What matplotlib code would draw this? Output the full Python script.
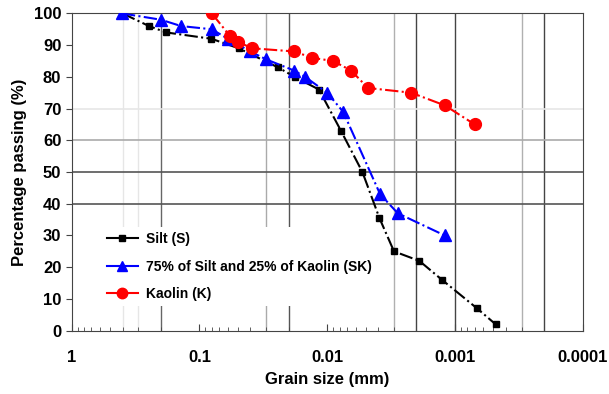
import matplotlib
matplotlib.use('Agg')
import matplotlib.pyplot as plt
from matplotlib.lines import Line2D

plt.rcParams['font.family'] = ['Liberation Sans', 'DejaVu Sans']
plt.rcParams['font.weight'] = 'bold'

# grain size (mm) and percentage passing
silt_d = [0.40, 0.248, 0.182, 0.0805, 0.0493, 0.0243, 0.018, 0.0116, 0.0078, 0.0053, 0.0039, 0.0030, 0.0019, 0.00126, 0.00067, 0.00048]
silt_p = [100, 96, 94, 92, 89, 83, 80, 76, 63, 50, 35.5, 25, 22, 16, 7, 2]

sk_d = [0.404, 0.2, 0.139, 0.08, 0.06, 0.04, 0.03, 0.0182, 0.0149, 0.01, 0.0075, 0.00385, 0.0028, 0.0012]
sk_p = [100, 98, 96, 95, 92, 88, 85.5, 82, 80, 75, 69, 43, 37, 30]

kaolin_d = [0.08, 0.058, 0.05, 0.0385, 0.0181, 0.0131, 0.009, 0.0065, 0.0048, 0.0022, 0.0012, 0.0007]
kaolin_p = [100, 93, 91, 89, 88, 86, 85, 82, 76.5, 75, 71, 65]

labels = ['Silt (S)', '75% of Silt and 25% of Kaolin (SK)', 'Kaolin (K)']
xticks = [1, 0.1, 0.01, 0.001, 0.0001]
xticklabels = ['1', '0.1', '0.01', '0.001', '0.0001']

# odd grid the original chart has
vgrid = [(0.4, '#e6e6e6'), (0.3, '#e6e6e6'), (0.2, '#666666'),
         (0.03, '#aaaaaa'), (0.02, '#555555'),
         (0.003, '#b0b0b0'), (0.002, '#444444'), (0.001, '#444444'),
         (0.0003, '#b0b0b0'), (0.0002, '#444444')]
hgrid = [(70, '#e6e6e6'), (60, '#aaaaaa'), (50, '#555555'), (40, '#555555')]

fig = plt.figure(figsize=(6.09, 3.94), dpi=100)
ax = fig.add_axes([0.1177, 0.1607, 0.8391, 0.8053])

for x, c in vgrid:
    ax.axvline(x, color=c, lw=1, zorder=0)
for y, c in hgrid:
    ax.axhline(y, color=c, lw=1.2, zorder=0)

ax.plot(silt_d, silt_p, color='black', ls='-.', lw=1.5, marker='s', ms=4.5, zorder=3)
ax.plot(sk_d, sk_p, color='blue', ls='-.', lw=1.5, marker='^', ms=8, zorder=4)
ax.plot(kaolin_d, kaolin_p, color='red', ls='-.', lw=1.5, marker='o', ms=8.5, zorder=5)

ax.set_xscale('log')
ax.set_xlim(1, 0.0001)
ax.set_ylim(0, 100)
ax.set_yticks(range(0, 101, 10))
ax.set_xticks(xticks)
ax.set_xticklabels(xticklabels)
ax.tick_params(axis='y', direction='out', length=4, labelsize=12, color='#444444')
ax.tick_params(axis='x', which='major', direction='in', length=5, labelsize=12, pad=14, color='#444444')
ax.tick_params(axis='x', which='minor', direction='in', length=3, color='#444444')
for s in ax.spines.values():
    s.set_color('#444444')

ax.set_xlabel('Grain size (mm)', fontsize=12, fontweight='bold', labelpad=5)
ax.set_ylabel('Percentage passing (%)', fontsize=12, fontweight='bold', labelpad=5)

handles = [Line2D([], [], color='black', marker='s', ms=4),
           Line2D([], [], color='blue', marker='^', ms=7),
           Line2D([], [], color='red', marker='o', ms=7.5)]
leg = ax.legend(handles, labels, loc='lower left', bbox_to_anchor=(0.045, 0.055),
                frameon=True, fancybox=False, edgecolor='none', framealpha=1,
                fontsize=10, labelspacing=0.95, handlelength=2.2, handletextpad=0.6,
                markerfirst=True)
for t in leg.get_texts():
    t.set_fontweight('bold')
leg.set_zorder(10)

fig.savefig('out.png', dpi=100)
